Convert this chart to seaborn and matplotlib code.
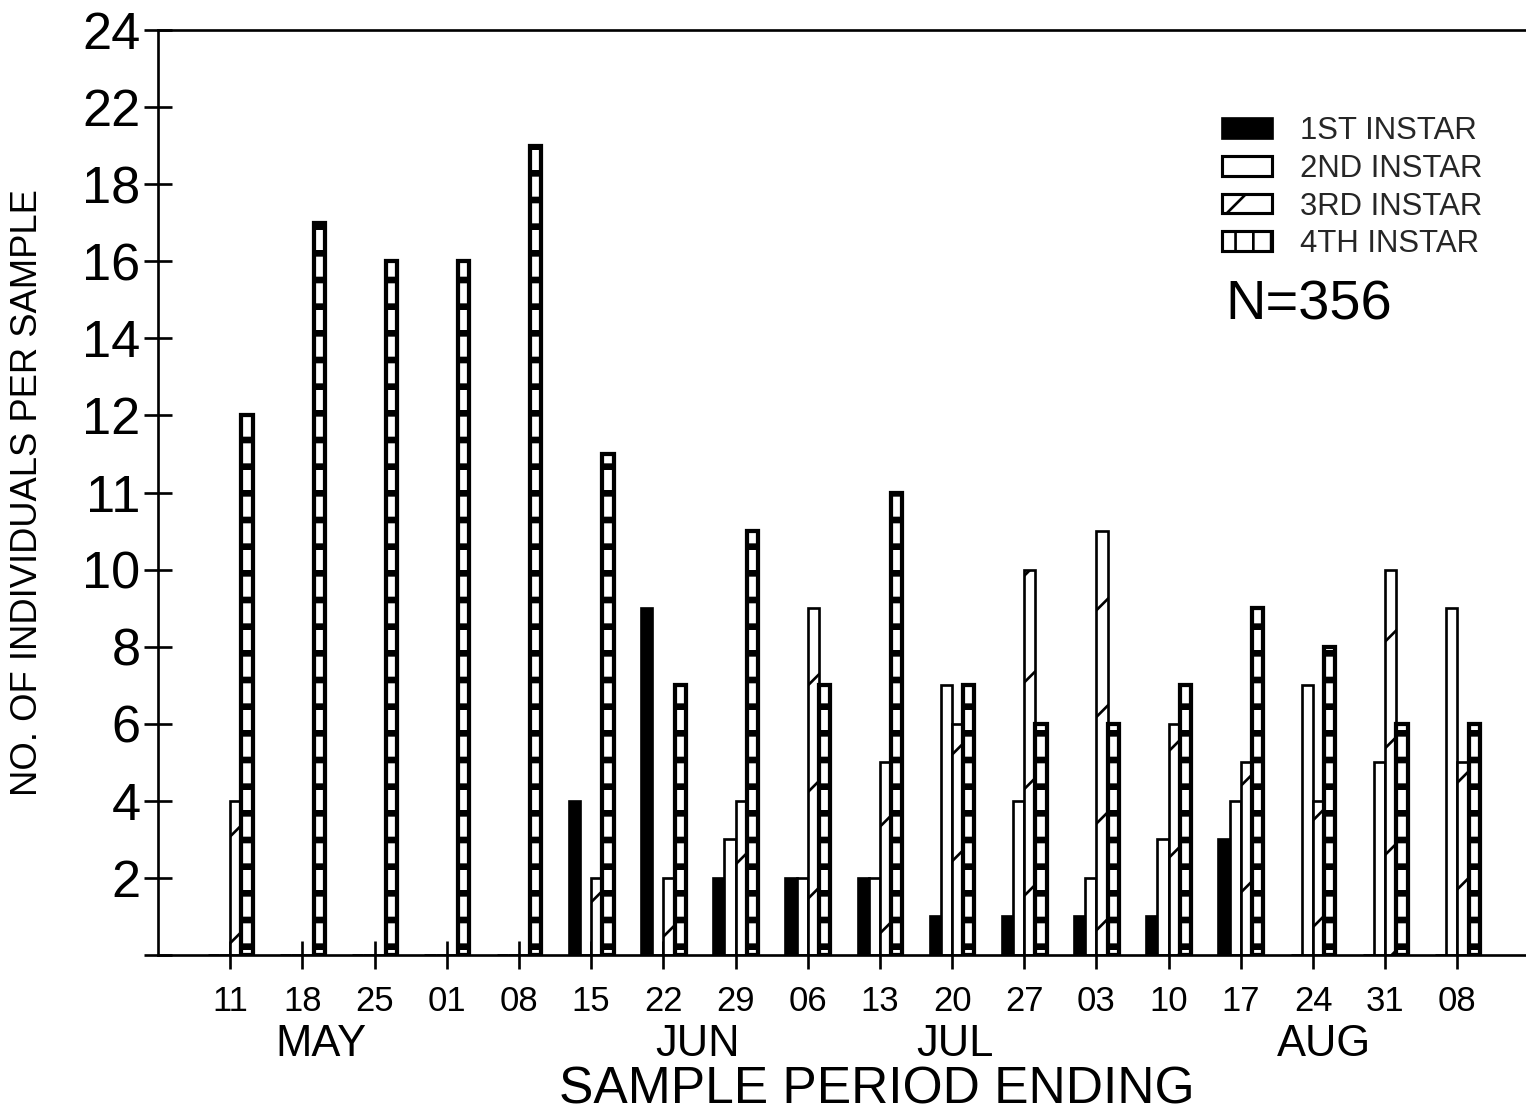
import numpy as np
import pandas as pd
import matplotlib
matplotlib.use("Agg")
import matplotlib.pyplot as plt
import seaborn as sns
from matplotlib.patches import Patch

# ---------------- data ----------------
dates = ["May 11", "May 18", "May 25", "Jun 01", "Jun 08", "Jun 15", "Jun 22",
         "Jun 29", "Jul 06", "Jul 13", "Jul 20", "Jul 27", "Aug 03", "Aug 10",
         "Aug 17", "Aug 24", "Aug 31", "Sep 08"]
day_labels = ["11", "18", "25", "01", "08", "15", "22", "29", "06", "13", "20",
              "27", "03", "10", "17", "24", "31", "08"]
instars = ["1ST INSTAR", "2ND INSTAR", "3RD INSTAR", "4TH INSTAR"]
first_instar = [0, 0, 0, 0, 0, 4, 9, 2, 2, 2, 1, 1, 1, 1, 3, 0, 0, 0]
second_instar = [0, 0, 0, 0, 0, 0, 0, 3, 2, 2, 7, 4, 2, 3, 4, 7, 5, 9]
third_instar = [4, 0, 0, 0, 0, 2, 2, 4, 9, 5, 6, 10, 11, 6, 5, 4, 10, 5]
fourth_instar = [14, 19, 18, 18, 21, 13, 7, 11, 7, 12, 7, 6, 6, 7, 9, 8, 6, 6]
ytick_values = [0, 2, 4, 6, 8, 10, 12, 14, 16, 18, 20, 22, 24]
ytick_labels = ["", "2", "4", "6", "8", "10", "11", "12", "14", "16", "18", "22", "24"]
months = ["MAY", "JUN", "JUL", "AUG"]
month_x = [1.26, 6.48, 10.04, 15.15]

df = pd.DataFrame({
    "period": dates * 4,
    "instar": np.repeat(instars, len(dates)),
    "count": first_instar + second_instar + third_instar + fourth_instar,
})

# ---------------- style ----------------
DPI = 320
sns.set_theme(style="ticks")
plt.rcParams["font.family"] = ["Liberation Sans", "DejaVu Sans"]
plt.rcParams["hatch.linewidth"] = 0.6
plt.rcParams["hatch.color"] = "black"

fig = plt.figure(figsize=(1526 / DPI, 1120 / DPI), dpi=DPI)
fig.patch.set_facecolor("white")
ax = fig.add_axes([158 / 1526, 1 - 955 / 1120, 1 - 158 / 1526, (955 - 30) / 1120])
ax.set_facecolor("white")

sns.barplot(data=df, x="period", y="count", hue="instar", order=dates,
            hue_order=instars, palette=["black", "white", "white", "white"],
            edgecolor="black", linewidth=0.6, width=0.62, gap=0,
            saturation=1, legend=False, ax=ax)

hatches = [None, None, "/", "--"]
edge_w = [0.6, 0.6, 0.6, 0.95]
for cont, h, lw in zip(ax.containers, hatches, edge_w):
    for p in cont.patches:
        p.set_linewidth(lw)
        if h:
            p.set_hatch(h)
            if hasattr(p, "set_hatch_linewidth"):
                p.set_hatch_linewidth(1.5 if h == "--" else 0.6)

ax.set_xlim(-1.0, 17.95)
ax.set_ylim(0, 24)
ax.set_yticks(ytick_values)
ax.set_yticklabels(ytick_labels, fontsize=11.8)
ax.set_xticks(range(len(dates)))
ax.set_xticklabels(day_labels, fontsize=7.8)
ax.tick_params(axis="both", which="major", direction="inout", length=6.3,
               width=0.6, color="black", labelcolor="black",
               bottom=True, left=True, top=False, right=False)
ax.tick_params(axis="y", pad=0.8)
ax.tick_params(axis="x", pad=3.5)

for s in ["left", "bottom", "top"]:
    ax.spines[s].set_visible(True)
    ax.spines[s].set_color("black")
    ax.spines[s].set_linewidth(0.6)
ax.spines["right"].set_visible(False)

lab = ax.set_xlabel("SAMPLE PERIOD ENDING", fontsize=11.6, color="black")
lab.set_va("center")
ax.xaxis.set_label_coords((877 - 158) / 1368, (955 - 1090) / 925)
ylab = ax.set_ylabel("NO. OF INDIVIDUALS PER SAMPLE", fontsize=8.2, color="black")
ylab.set_va("center")
ax.yaxis.set_label_coords((28 - 158) / 1368, 0.5)

for m, x in zip(months, month_x):
    ax.text(x, (955 - 1045) / 925, m, transform=ax.get_xaxis_transform(),
            ha="center", va="center", fontsize=9.8, color="black")

handles = [Patch(facecolor="black", edgecolor="black", linewidth=0.6),
           Patch(facecolor="white", edgecolor="black", linewidth=0.7),
           Patch(facecolor="white", edgecolor="black", linewidth=0.7, hatch="//"),
           Patch(facecolor="white", edgecolor="black", linewidth=0.7, hatch="|||")]
fig.legend(handles, instars, loc="upper left",
           bbox_to_anchor=(1222 / 1526, 1 - 116 / 1120), frameon=False,
           handlelength=1.6, handleheight=0.6, handletextpad=0.9,
           labelspacing=0.25, borderpad=0, borderaxespad=0,
           prop={"size": 7, "weight": "medium"})

fig.text(1225 / 1526, 1 - 305 / 1120, "N=356", ha="left", va="center",
         fontsize=12.6, color="black")

fig.savefig("out.png", dpi=DPI, facecolor="white")
